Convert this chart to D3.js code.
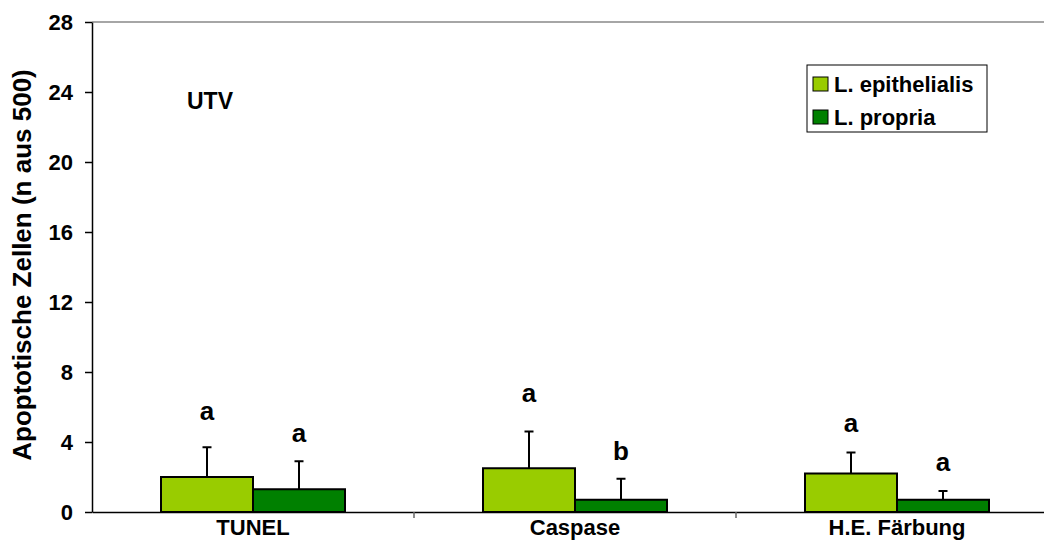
<!DOCTYPE html>
<html lang="de">
<head>
<meta charset="UTF-8">
<title>Apoptotische Zellen UTV</title>
<script src="https://d3js.org/d3.v7.min.js"></script>
<style>
    body { margin: 0; background: #fff; }
    svg { display: block; font-family: "Liberation Sans", Arial, sans-serif; font-weight: bold; }
</style>
</head>
<body>
<svg width="1044" height="540"></svg>
<script>
// data
const categories = ["TUNEL", "Caspase", "H.E. Färbung"];
const seriesNames = ["L. epithelialis", "L. propria"];
const epithelialis = [2.0, 2.5, 2.2];
const epithelialisSD = [1.7, 2.1, 1.2];
const propria = [1.3, 0.7, 0.7];
const propriaSD = [1.6, 1.2, 0.5];
const epithelialisLetters = ["a", "a", "a"];
const propriaLetters = ["a", "b", "a"];
// baseline of the letters, in data units
const epithelialisLetterY = [5.26, 6.3, 4.59];
const propriaLetterY = [4.02, 2.97, 2.36];
const yTicks = [0, 4, 8, 12, 16, 20, 24, 28];

const colors = ["#99cc00", "#008000"];
const font = "Liberation Sans, Arial, sans-serif";

let svg = d3.select("svg");
let plot = {left: 92, right: 1058, top: 22, bottom: 512};

let yscale = d3.scaleLinear().domain([0, 28]).range([plot.bottom, plot.top]);
let xscale = d3.scaleBand().domain(categories).range([plot.left, plot.right]).padding(0);
let inner = d3.scaleBand().domain(seriesNames)
    .range([69, 253]).padding(0);

// table for drawing
let rows = [];
categories.forEach(function (c, i) {
    rows.push({cat: c, s: seriesNames[0], v: epithelialis[i], sd: epithelialisSD[i], letter: epithelialisLetters[i], ly: epithelialisLetterY[i], col: colors[0]});
    rows.push({cat: c, s: seriesNames[1], v: propria[i], sd: propriaSD[i], letter: propriaLetters[i], ly: propriaLetterY[i], col: colors[1]});
});

// grey frame line on top
svg.append("line")
    .attr("x1", plot.left).attr("x2", plot.right)
    .attr("y1", plot.top).attr("y2", plot.top)
    .attr("stroke", "#888").attr("stroke-width", 1.5);

// error bars (upper only), drawn behind the bars
let eg = svg.append("g").attr("stroke", "#000").attr("stroke-width", 2);
rows.forEach(function (d) {
    let cx = xscale(d.cat) + inner(d.s) + inner.bandwidth() / 2;
    eg.append("line").attr("x1", cx).attr("x2", cx)
        .attr("y1", yscale(d.v)).attr("y2", yscale(d.v + d.sd));
    eg.append("line").attr("x1", cx - 4.5).attr("x2", cx + 4.5)
        .attr("y1", yscale(d.v + d.sd)).attr("y2", yscale(d.v + d.sd));
});

// bars
svg.append("g").selectAll("rect").data(rows).enter().append("rect")
    .attr("x", function (d) { return xscale(d.cat) + inner(d.s); })
    .attr("y", function (d) { return yscale(d.v); })
    .attr("width", inner.bandwidth())
    .attr("height", function (d) { return yscale(0) - yscale(d.v); })
    .attr("fill", function (d) { return d.col; })
    .attr("stroke", "#000")
    .attr("stroke-width", 2);

// significance letters
svg.append("g").selectAll("text").data(rows).enter().append("text")
    .attr("x", function (d) { return xscale(d.cat) + inner(d.s) + inner.bandwidth() / 2; })
    .attr("y", function (d) { return yscale(d.ly); })
    .attr("text-anchor", "middle")
    .style("font-size", "26px")
    .text(function (d) { return d.letter; });

// y axis
let yAxis = svg.append("g")
    .attr("transform", "translate(" + plot.left + ",0)")
    .call(d3.axisLeft(yscale).tickValues(yTicks).tickSize(7).tickSizeOuter(0).tickPadding(12));
yAxis.select(".domain").attr("stroke", "#000").attr("stroke-width", 1.5);
yAxis.selectAll(".tick line").attr("stroke", "#000").attr("stroke-width", 1.5);
yAxis.selectAll("text").style("font-size", "22px").style("font-family", font).style("font-weight", "bold").attr("fill", "#000");

// x axis
let xAxis = svg.append("g")
    .attr("transform", "translate(0," + plot.bottom + ")")
    .call(d3.axisBottom(xscale).tickSize(0).tickSizeOuter(0).tickPadding(7));
xAxis.select(".domain").attr("stroke", "#000").attr("stroke-width", 1.5);
xAxis.selectAll("text").style("font-size", "22px").style("font-family", font).style("font-weight", "bold").attr("fill", "#000");

// category boundary ticks
svg.append("g").selectAll("line").data(categories.slice(1)).enter().append("line")
    .attr("x1", function (d) { return xscale(d); })
    .attr("x2", function (d) { return xscale(d); })
    .attr("y1", plot.bottom).attr("y2", plot.bottom + 6)
    .attr("stroke", "#666").attr("stroke-width", 1.5);

// y title
svg.append("text")
    .attr("transform", "translate(31,265) rotate(-90)")
    .attr("text-anchor", "middle")
    .style("font-size", "26px")
    .text("Apoptotische Zellen (n aus 500)");

// UTV label
svg.append("text")
    .attr("x", 210).attr("y", 108.5)
    .attr("text-anchor", "middle")
    .style("font-size", "23px")
    .text("UTV");

// legend
let lg = svg.append("g").attr("transform", "translate(807,65)");
lg.append("rect").attr("width", 180).attr("height", 67)
    .attr("fill", "#fff").attr("stroke", "#000").attr("stroke-width", 1);
seriesNames.forEach(function (s, i) {
    lg.append("rect").attr("x", 6).attr("y", 12 + i * 33).attr("width", 15).attr("height", 14)
        .attr("fill", colors[i]).attr("stroke", "#000").attr("stroke-width", 1);
    lg.append("text").attr("x", 27).attr("y", 27 + i * 33)
        .style("font-size", "22px").text(s);
});
</script>
</body>
</html>
